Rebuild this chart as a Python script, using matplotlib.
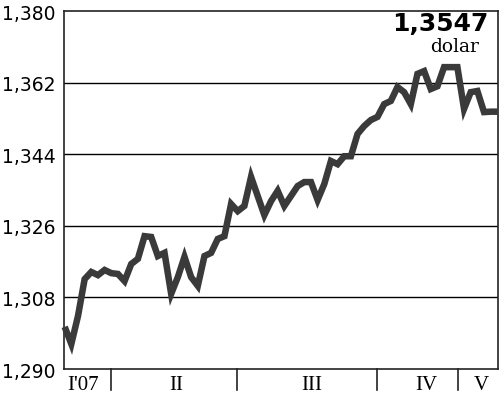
import matplotlib.pyplot as plt

# EUR/USD rate, Jan - May 2007
rate = [1.3006, 1.2963, 1.3033, 1.3126, 1.3144, 1.3136, 1.3149, 1.3141, 1.3139, 1.3121,
        1.3164, 1.3177, 1.3234, 1.3232, 1.3184, 1.3192, 1.3089, 1.3131, 1.3182, 1.3131,
        1.3109, 1.3184, 1.3192, 1.3227, 1.3234, 1.3315, 1.3297, 1.3310, 1.3383, 1.3335,
        1.3287, 1.3322, 1.3348, 1.3310, 1.3335, 1.3360, 1.3370, 1.3370, 1.3325, 1.3365,
        1.3423, 1.3415, 1.3435, 1.3435, 1.3491, 1.3511, 1.3526, 1.3534, 1.3566, 1.3574,
        1.3609, 1.3596, 1.3566, 1.3642, 1.3649, 1.3604, 1.3611, 1.3659, 1.3659, 1.3659,
        1.3554, 1.3596, 1.3599, 1.3546, 1.3547, 1.3547]
y_ticks = [1.290, 1.308, 1.326, 1.344, 1.362, 1.380]
y_labels = ["1,290", "1,308", "1,326", "1,344", "1,362", "1,380"]
months = ["I'07", "II", "III", "IV", "V"]
month_pos = [2.8, 16.8, 37.1, 54.4, 62.6]
month_sep = [6.9, 25.9, 46.9, 59.1]
last_value = "1,3547"

fig = plt.figure(figsize=(5, 4.02), dpi=100)
ax = fig.add_axes([0.128, 0.0796, 0.868, 0.8904])

ax.plot(range(len(rate)), rate, color="#3a3a3a", lw=4.7, solid_joinstyle="miter",
        solid_capstyle="butt", zorder=3, clip_on=False)

ax.set_xlim(-0.1, 65.1)
ax.set_ylim(1.290, 1.380)
ax.set_yticks(y_ticks)
ax.set_yticklabels(y_labels, fontsize=13.5, family="DejaVu Sans")
ax.tick_params(axis="y", length=0, pad=6)
ax.set_xticks([])
for y in y_ticks[1:-1]:
    ax.axhline(y, color="black", lw=1, zorder=1)
for s in ax.spines.values():
    s.set_color("#222222")
    s.set_linewidth(1.2)

# month separators below the axis
for x in month_sep:
    ax.plot([x, x], [0, -0.06], transform=ax.get_xaxis_transform(),
            color="#222222", lw=1.2, clip_on=False)
for x, m in zip(month_pos, months):
    ax.text(x, -0.043, m, transform=ax.get_xaxis_transform(), ha="center", va="center",
            fontsize=15, family="Liberation Serif")

ax.text(56.5, 1.3770, last_value, ha="center", va="center",
        fontsize=18, fontweight="bold", family="DejaVu Sans")
ax.text(58.6, 1.3712, "dolar", ha="center", va="center",
        fontsize=13.5, family="DejaVu Serif")

fig.savefig("out.png", dpi=100)
